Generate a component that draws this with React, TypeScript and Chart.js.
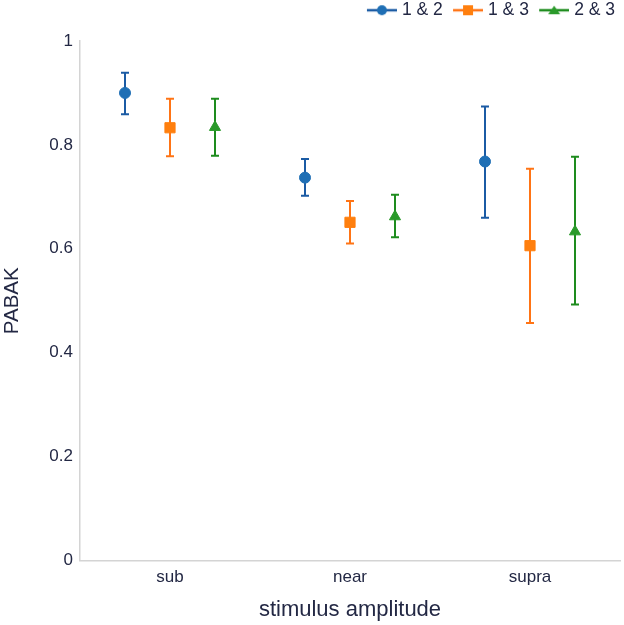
import { useEffect, useRef } from 'react';
import { Chart, registerables } from 'chart.js';

Chart.register(...registerables);

// categories on the x axis and the three rater pairs
const categories = ['sub', 'near', 'supra'];
const seriesLabels = ['1 & 2', '1 & 3', '2 & 3'];

// PABAK estimates with lower / upper CI bounds
const mean12 = [0.9, 0.737, 0.768];
const low12 = [0.859, 0.702, 0.66];
const high12 = [0.939, 0.773, 0.874];

const mean13 = [0.833, 0.651, 0.606];
const low13 = [0.778, 0.61, 0.457];
const high13 = [0.889, 0.692, 0.754];

const mean23 = [0.834, 0.662, 0.633];
const low23 = [0.779, 0.622, 0.493];
const high23 = [0.889, 0.704, 0.777];

const yTicks = [0, 0.2, 0.4, 0.6, 0.8, 1];

const means = [mean12, mean13, mean23];
const lows = [low12, low13, low23];
const highs = [high12, high13, high23];

// dodge of each series inside a category (in category units)
const seriesOffsets = [-0.25, 0, 0.25];
const pointColors = ['#1f6fb5', '#ff7f0e', '#2a9a2a'];
const barColors = ['#1b5ba4', '#ff7415', '#1e8c1e'];
const pointStyles = ['circle', 'rect', 'triangle'] as const;
const pointRadii = [5.5, 7.2, 6.4];

const textColor = '#232844';
const axisColor = '#d4d4d4';
const font = 'Liberation Sans, Arial, sans-serif';

// legend swatch: line with marker, drawn off-centre so the gap before the text stays small
function makeIcon(color: string, fill: string, style: string) {
  const c = document.createElement('canvas');
  c.width = 39;
  c.height = 14;
  const g = c.getContext('2d');
  if (!g) return c;
  g.strokeStyle = color;
  g.fillStyle = fill;
  g.lineWidth = 2.5;
  g.beginPath();
  g.moveTo(9, 7);
  g.lineTo(39, 7);
  g.stroke();
  g.beginPath();
  if (style === 'circle') {
    g.arc(24, 7, 5, 0, Math.PI * 2);
  } else if (style === 'rect') {
    g.rect(19, 2, 10, 10);
  } else {
    g.moveTo(24, 2.5);
    g.lineTo(30, 11);
    g.lineTo(18, 11);
    g.closePath();
  }
  g.fill();
  return c;
}

const errorBars = {
  id: 'errorBars',
  beforeDatasetsDraw(chart: Chart) {
    const { ctx } = chart;
    const y = chart.scales.y;
    chart.data.datasets.forEach((_, i) => {
      const meta = chart.getDatasetMeta(i);
      ctx.save();
      ctx.strokeStyle = barColors[i];
      ctx.lineWidth = 2;
      meta.data.forEach((pt, j) => {
        const top = y.getPixelForValue(highs[i][j]);
        const bottom = y.getPixelForValue(lows[i][j]);
        ctx.beginPath();
        ctx.moveTo(pt.x, top);
        ctx.lineTo(pt.x, bottom);
        ctx.moveTo(pt.x - 4, top);
        ctx.lineTo(pt.x + 4, top);
        ctx.moveTo(pt.x - 4, bottom);
        ctx.lineTo(pt.x + 4, bottom);
        ctx.stroke();
      });
      ctx.restore();
    });
  },
};

export default function App() {
  const canvasRef = useRef<HTMLCanvasElement>(null);

  useEffect(() => {
    if (!canvasRef.current) return;
    const icons = seriesLabels.map((_, i) => makeIcon(barColors[i], pointColors[i], pointStyles[i]));

    const chart = new Chart(canvasRef.current, {
      type: 'scatter',
      data: {
        datasets: seriesLabels.map((label, i) => ({
          label,
          data: means[i].map((v, j) => ({ x: j + 0.5 + seriesOffsets[i], y: v })),
          pointStyle: pointStyles[i],
          pointRadius: pointRadii[i],
          pointBackgroundColor: pointColors[i],
          pointBorderColor: pointColors[i],
          pointBorderWidth: 1,
          backgroundColor: pointColors[i],
          borderColor: barColors[i],
        })),
      },
      options: {
        animation: false,
        responsive: true,
        maintainAspectRatio: false,
        layout: { autoPadding: false, padding: { top: -3.5, right: 4 } },
        plugins: {
          tooltip: { enabled: false },
          legend: {
            position: 'top',
            align: 'end',
            labels: {
              usePointStyle: true,
              pointStyleWidth: 31.5,
              boxHeight: 17,
              padding: 5,
              color: textColor,
              font: { family: font, size: 17.5 },
              generateLabels: (c: Chart) =>
                Chart.defaults.plugins.legend.labels
                  .generateLabels(c)
                  .map((item, i) => ({ ...item, pointStyle: icons[i] })),
            },
          },
          // empty spacer between legend and plot
          subtitle: {
            display: true,
            text: '',
            weight: 500,
            padding: 0,
            font: { size: 10 },
          },
        },
        scales: {
          x: {
            type: 'linear',
            min: 0,
            max: categories.length,
            grid: { display: false, drawTicks: false },
            border: { display: true, color: axisColor, width: 1.5 },
            afterBuildTicks: (axis) => {
              axis.ticks = categories.map((_, i) => ({ value: i + 0.5 }));
            },
            afterFit: (axis) => {
              axis.height = 64.5;
            },
            ticks: {
              padding: 7,
              color: textColor,
              font: { family: font, size: 17 },
              callback: (_v, index) => categories[index],
            },
            title: {
              display: true,
              text: 'stimulus amplitude',
              color: textColor,
              font: { family: font, size: 22 },
              padding: { top: 0, bottom: 2 },
            },
          },
          y: {
            min: 0,
            max: 1,
            grid: { display: false, drawTicks: false },
            border: { display: true, color: axisColor, width: 1.5 },
            afterBuildTicks: (axis) => {
              axis.ticks = yTicks.map((v) => ({ value: v }));
            },
            afterFit: (axis) => {
              axis.width = 80;
            },
            ticks: {
              padding: 7,
              color: textColor,
              font: { family: font, size: 17 },
              callback: (v) => String(Number(v)),
            },
            title: {
              display: true,
              text: 'PABAK',
              color: textColor,
              font: { family: font, size: 20.5 },
              padding: { top: 0, bottom: 0 },
            },
          },
        },
      },
      plugins: [errorBars],
    });

    return () => {
      chart.destroy();
    };
  }, []);

  return (
    <div style={{ position: 'absolute', left: 0, top: 0, width: 624, height: 625, background: '#fff' }}>
      <canvas ref={canvasRef} />
    </div>
  );
}
